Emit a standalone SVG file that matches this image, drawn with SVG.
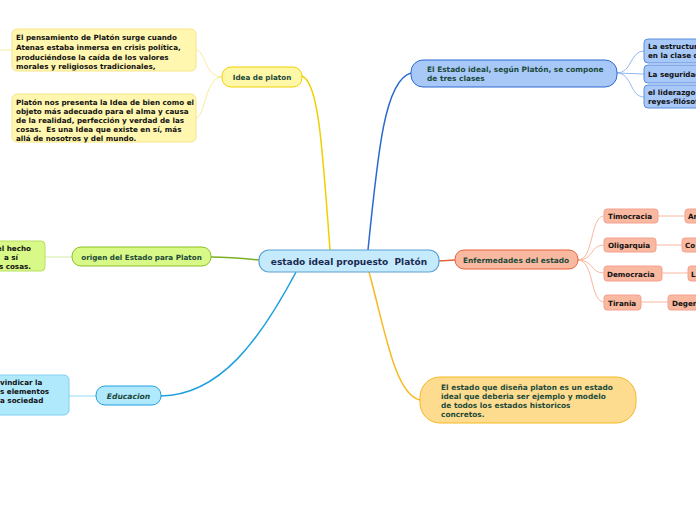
<svg xmlns="http://www.w3.org/2000/svg" width="696" height="520" viewBox="0 0 696 520">
<style>
text{font-family:"DejaVu Sans",Verdana,sans-serif;font-weight:bold;font-size:7.2px;white-space:pre}
.main{fill:#1b4a3a}
.leaf{fill:#111}
.c{fill:none}
</style>
<rect width="696" height="520" fill="#fff"/>
<g id="connectors" class="c">
<path d="M330,250 C322,140 318,82 302,76" stroke="#f0d000" stroke-width="1.5"/>
<path d="M222,77 C205,77 205,50 196,50" stroke="#f8ec98" stroke-width="1"/>
<path d="M222,77 C205,77 205,118 196,118" stroke="#f8ec98" stroke-width="1"/>
<path d="M0,50 L12,50" stroke="#f8ec98" stroke-width="1"/>
<path d="M368,250 C378,150 385,80 411,73" stroke="#2a6ad0" stroke-width="1.5"/>
<path d="M617,73 C632,73 630,51 644,51" stroke="#90b8f0" stroke-width="1"/>
<path d="M617,73 L644,74" stroke="#90b8f0" stroke-width="1"/>
<path d="M617,73 C632,73 630,97 644,97" stroke="#90b8f0" stroke-width="1"/>
<path d="M439,261 L455,260" stroke="#e8603a" stroke-width="1.5"/>
<path d="M578,260 C594,260 590,216 604,216" stroke="#f8b8a0" stroke-width="1"/>
<path d="M578,260 C594,260 590,245 604,245" stroke="#f8b8a0" stroke-width="1"/>
<path d="M578,260 C594,260 590,273 604,273" stroke="#f8b8a0" stroke-width="1"/>
<path d="M578,260 C594,260 590,302 604,302" stroke="#f8b8a0" stroke-width="1"/>
<path d="M658,216 L685,216 M656,245 L682,245 M662,273 L688,273 M641,302 L668,302" stroke="#f8b8a0" stroke-width="1"/>
<path d="M259,260 C240,258 225,257 211,257" stroke="#7ab020" stroke-width="1.5"/>
<path d="M72,257 L45,257" stroke="#d4eaa8" stroke-width="1"/>
<path d="M296,272 C260,340 220,395 161,396" stroke="#20a0e0" stroke-width="1.5"/>
<path d="M96,396 L69,396" stroke="#90d8f4" stroke-width="1"/>
<path d="M369,272 C385,330 395,395 420,400" stroke="#f8b820" stroke-width="1.5"/>
</g>
<g id="central">
<rect x="259" y="250" width="180" height="22" rx="10" fill="#c5eafc" stroke="#5ba0d0" stroke-width="1.2"/>
<text x="349" y="264.5" text-anchor="middle" style="font-size:9px;fill:#1a2a50">estado ideal propuesto  Platón</text>
</g>
<g id="idea">
<rect x="222" y="67" width="80" height="20" rx="9" fill="#fff7a8" stroke="#f0d000" stroke-width="1"/>
<text x="262" y="80" text-anchor="middle" class="main">Idea de platon</text>
</g>
<g id="idea1">
<rect x="12" y="29" width="184" height="42" rx="5" fill="#fff7b0" stroke="#f5e58a" stroke-width="1"/>
<text class="leaf"><tspan x="16" y="40">El pensamiento de Platón surge cuando</tspan><tspan x="16" y="50">Atenas estaba inmersa en crisis política,</tspan><tspan x="16" y="59.5">produciéndose la caída de los valores</tspan><tspan x="16" y="69">morales y religiosos tradicionales,</tspan></text>
</g>
<g id="idea2">
<rect x="12" y="94" width="184" height="48" rx="5" fill="#fff7b0" stroke="#f5e58a" stroke-width="1"/>
<text class="leaf"><tspan x="16" y="105">Platón nos presenta la Idea de bien como el</tspan><tspan x="16" y="114">objeto más adecuado para el alma y causa</tspan><tspan x="16" y="123">de la realidad, perfección y verdad de las</tspan><tspan x="16" y="132">cosas.  Es una Idea que existe en sí, más</tspan><tspan x="16" y="141">allá de nosotros y del mundo.</tspan></text>
</g>
<g id="estado-ideal">
<rect x="411" y="60" width="206" height="27" rx="12" fill="#a8c8f8" stroke="#2a6ad0" stroke-width="1"/>
<text class="main" style="font-size:7.4px"><tspan x="427" y="72">El Estado ideal, según Platón, se compone</tspan><tspan x="427" y="81">de tres clases</tspan></text>
</g>
<g id="clase1">
<rect x="644" y="39" width="60" height="24" rx="4" fill="#a8c8f8" stroke="#5b8fe0" stroke-width="1"/>
<text class="leaf"><tspan x="648" y="49">La estructur</tspan><tspan x="648" y="58">en la clase d</tspan></text>
</g>
<g id="clase2">
<rect x="644" y="65" width="60" height="18" rx="4" fill="#a8c8f8" stroke="#5b8fe0" stroke-width="1"/>
<text class="leaf" x="648" y="77">La seguridad</text>
</g>
<g id="clase3">
<rect x="644" y="85" width="60" height="23" rx="4" fill="#a8c8f8" stroke="#5b8fe0" stroke-width="1"/>
<text class="leaf"><tspan x="648" y="95">el liderazgo</tspan><tspan x="648" y="104">reyes-filósof</tspan></text>
</g>
<g id="enfermedades">
<rect x="455" y="250" width="123" height="19" rx="9" fill="#f9b8a0" stroke="#e8603a" stroke-width="1"/>
<text x="516" y="262.5" text-anchor="middle" class="main" style="font-size:7.4px">Enfermedades del estado</text>
</g>
<g id="timocracia">
<rect x="604" y="209" width="54" height="14" rx="3" fill="#f9b8a0" stroke="#f5a090" stroke-width="1"/>
<text x="608" y="219" class="leaf">Timocracia</text>
</g>
<g id="oligarquia">
<rect x="604" y="238" width="52" height="14" rx="3" fill="#f9b8a0" stroke="#f5a090" stroke-width="1"/>
<text x="608" y="248" class="leaf">Oligarquia</text>
</g>
<g id="democracia">
<rect x="604" y="266" width="58" height="15" rx="3" fill="#f9b8a0" stroke="#f5a090" stroke-width="1"/>
<text x="607" y="276.5" class="leaf">Democracia</text>
</g>
<g id="tirania">
<rect x="604" y="295" width="37" height="15" rx="3" fill="#f9b8a0" stroke="#f5a090" stroke-width="1"/>
<text x="608" y="305.5" class="leaf">Tirania</text>
</g>
<g id="timocracia-hijo">
<rect x="685" y="209" width="40" height="14" rx="3" fill="#f9b8a0" stroke="#f5a090" stroke-width="1"/>
<text x="688" y="219" class="leaf">Ar</text>
</g>
<g id="oligarquia-hijo">
<rect x="682" y="238" width="40" height="14" rx="3" fill="#f9b8a0" stroke="#f5a090" stroke-width="1"/>
<text x="685" y="248" class="leaf">Co</text>
</g>
<g id="democracia-hijo">
<rect x="688" y="266" width="40" height="15" rx="3" fill="#f9b8a0" stroke="#f5a090" stroke-width="1"/>
<text x="691" y="276.5" class="leaf">L</text>
</g>
<g id="tirania-hijo">
<rect x="668" y="295" width="60" height="15" rx="3" fill="#f9b8a0" stroke="#f5a090" stroke-width="1"/>
<text x="672" y="305.5" class="leaf">Degen</text>
</g>
<g id="origen">
<rect x="72" y="247" width="139" height="19" rx="9" fill="#d8f888" stroke="#8ac020" stroke-width="1"/>
<text x="141.5" y="259.5" text-anchor="middle" class="main">origen del Estado para Platon</text>
</g>
<g id="origen-hoja">
<rect x="-10" y="241" width="55" height="30" rx="4" fill="#d8f888" stroke="#b8e060" stroke-width="1"/>
<text class="leaf" text-anchor="end"><tspan x="31" y="251">el hecho</tspan><tspan x="18" y="260">a sí</tspan><tspan x="31" y="269">s cosas.</tspan></text>
</g>
<g id="educacion">
<rect x="96" y="386" width="65" height="19" rx="9" fill="#b0e8fc" stroke="#20a0e0" stroke-width="1"/>
<text x="128.5" y="398.5" text-anchor="middle" class="main" font-style="italic" style="font-size:7.6px">Educacion</text>
</g>
<g id="educacion-hoja">
<rect x="-10" y="375" width="79" height="40" rx="5" fill="#b0e8fc" stroke="#80d0f0" stroke-width="1"/>
<text class="leaf"><tspan x="0" y="385">vindicar la</tspan><tspan x="0" y="394">s elementos</tspan><tspan x="0" y="403">a sociedad</tspan></text>
</g>
<g id="modelo">
<rect x="420" y="377" width="216" height="46" rx="20" fill="#fddc90" stroke="#f8b820" stroke-width="1"/>
<text class="main" style="font-size:7.4px"><tspan x="441" y="390">El estado que diseña platon es un estado</tspan><tspan x="441" y="399">ideal que deberia ser ejemplo y modelo</tspan><tspan x="441" y="408">de todos los estados historicos</tspan><tspan x="441" y="417">concretos.</tspan></text>
</g>
</svg>
